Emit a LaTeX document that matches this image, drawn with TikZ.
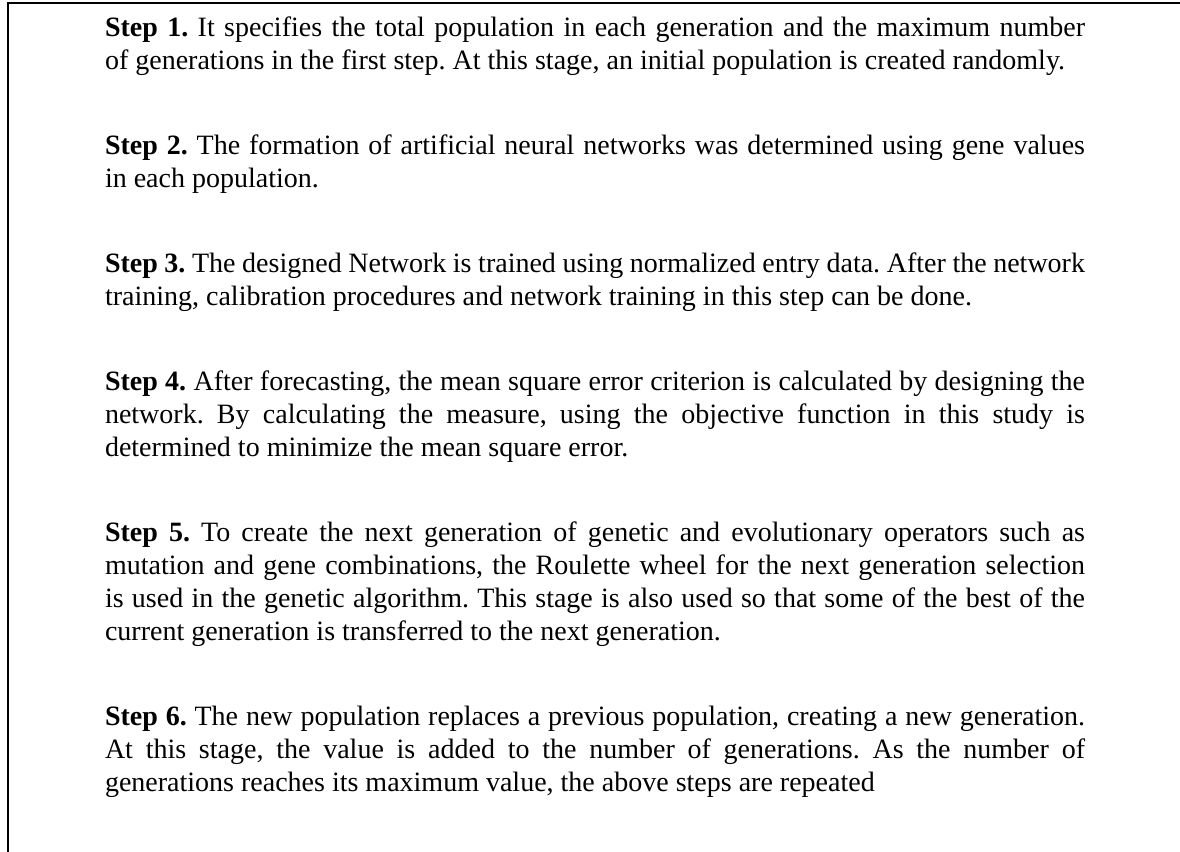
\documentclass[tikz,border=0pt]{standalone}
\usepackage{fontspec}
\setmainfont{Liberation Serif}
\frenchspacing
\tolerance=10000
\hbadness=10000
\hyphenpenalty=10000
\newcommand{\firststrut}{\rule{0pt}{10pt}}
\tikzset{
  stepbox/.style={anchor=north west, inner sep=0pt, outer sep=0pt,
    text width=490pt, align=justify,
    font=\fontsize{14pt}{16.5pt}\selectfont},
  frameline/.style={line width=1pt, black}
}
\begin{document}
\begin{tikzpicture}[x=1pt,y=1pt]
\useasboundingbox (0,0) rectangle (590,-426);
% open frame: left side and top edge
\coordinate (fbl) at (4,-426);
\coordinate (ftl) at (4,-1.25);
\coordinate (ftr) at (590,-1.25);
\draw[frameline] (fbl) -- (ftl) -- (ftr);

\node[stepbox] (s1) at (52.5,-8.35) {\firststrut\textbf{Step 1.} It specifies the total population in each generation and the maximum number\linebreak
of generations in the first step. At this stage, an initial population is created randomly.};

\node[stepbox] (s2) at (52.5,-67.35) {\firststrut\textbf{Step 2.} The formation of artificial neural networks was determined using gene values\linebreak
in each population.};

\node[stepbox] (s3) at (52.5,-126.35) {\firststrut\textbf{Step 3.} The designed Network is trained using normalized entry data. After the network\linebreak
training, calibration procedures and network training in this step can be done.};

\node[stepbox] (s4) at (52.5,-185.35) {\firststrut\textbf{Step 4.} After forecasting, the mean square error criterion is calculated by designing the\linebreak
network. By calculating the measure, using the objective function in this study is\linebreak
determined to minimize the mean square error.};

\node[stepbox] (s5) at (52.5,-260.85) {\firststrut\textbf{Step 5.} To create the next generation of genetic and evolutionary operators such as\linebreak
mutation and gene combinations, the Roulette wheel for the next generation selection\linebreak
is used in the genetic algorithm. This stage is also used so that some of the best of the\linebreak
current generation is transferred to the next generation.};

\node[stepbox] (s6) at (52.5,-352.85) {\firststrut\textbf{Step 6.} The new population replaces a previous population, creating a new generation.\linebreak
At this stage, the value is added to the number of generations. As the number of\linebreak
generations reaches its maximum value, the above steps are repeated};
\end{tikzpicture}
\end{document}
